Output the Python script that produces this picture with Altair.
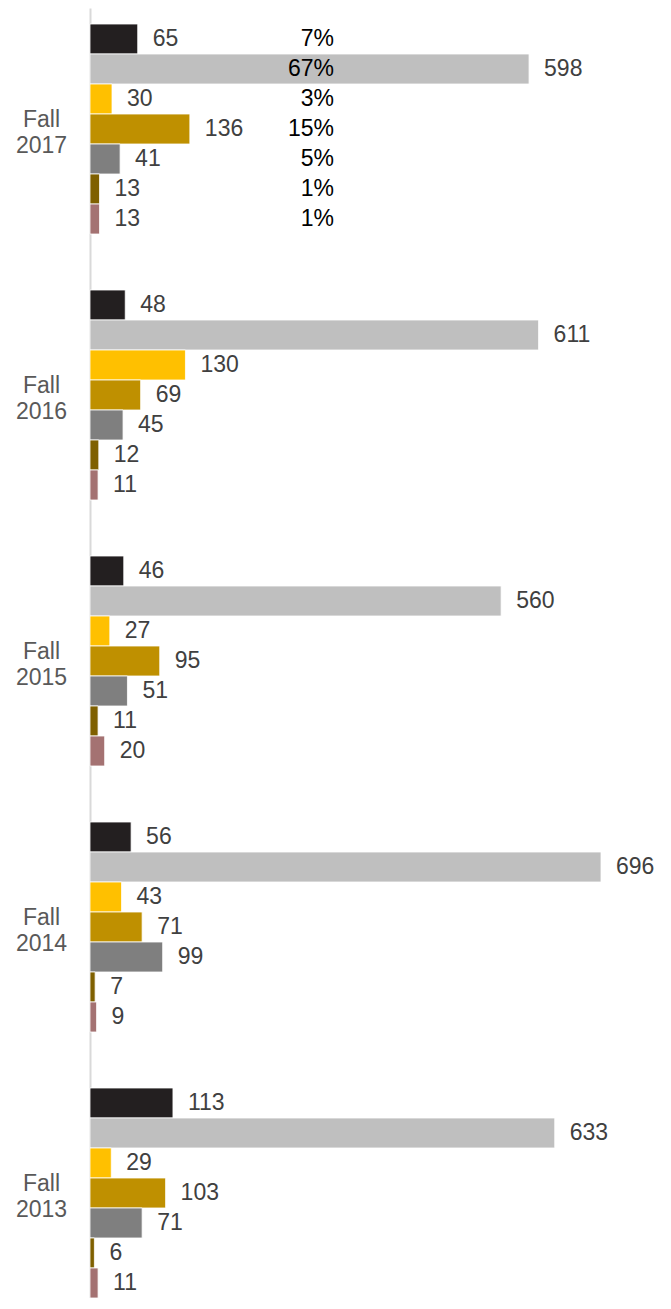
import altair as alt
import pandas as pd

groups = ["Fall 2017", "Fall 2016", "Fall 2015", "Fall 2014", "Fall 2013"]
series = ["Series 1", "Series 2", "Series 3", "Series 4", "Series 5", "Series 6", "Series 7"]
colors = ["#231F20", "#BFBFBF", "#FFC000", "#BF9000", "#7F7F7F", "#7F6000", "#A47272"]

values = {
    "Fall 2017": [65, 598, 30, 136, 41, 13, 13],
    "Fall 2016": [48, 611, 130, 69, 45, 12, 11],
    "Fall 2015": [46, 560, 27, 95, 51, 11, 20],
    "Fall 2014": [56, 696, 43, 71, 99, 7, 9],
    "Fall 2013": [113, 633, 29, 103, 71, 6, 11],
}
pct_2017 = ["7%", "67%", "3%", "15%", "5%", "1%", "1%"]

rows = []
for g in groups:
    for i, s in enumerate(series):
        rows.append({"group": g, "series": s, "value": values[g][i],
                     "pct": pct_2017[i] if g == "Fall 2017" else ""})
df = pd.DataFrame(rows)

FONT = "Liberation Sans"

y_enc = alt.Y("group:N", sort=groups,
              scale=alt.Scale(paddingInner=0.2105, paddingOuter=0.0301, align=1),
              axis=alt.Axis(title=None, ticks=False, labelAlign="center",
                            labelPadding=49, labelFontSize=23, labelFont=FONT,
                            labelColor="#595959", labelLineHeight=26,
                            labelOffset=-9,
                            labelExpr="split(datum.label, ' ')",
                            domainColor="#D9D9D9", domainWidth=2,
                            labelBaseline="middle"))
yoff_enc = alt.YOffset("series:N", sort=series,
                       scale=alt.Scale(paddingInner=0, paddingOuter=0))
x_enc = alt.X("value:Q", scale=alt.Scale(domain=[0, 696], nice=False),
              axis=None)

base = alt.Chart(df)

bars = base.mark_bar(stroke="white", strokeWidth=0.8).encode(
    y=y_enc, yOffset=yoff_enc, x=x_enc,
    color=alt.Color("series:N", sort=series,
                    scale=alt.Scale(domain=series, range=colors), legend=None),
)

labels = base.mark_text(align="left", baseline="middle", dx=15,
                        fontSize=23, font=FONT, color="#404040").encode(
    y=y_enc, yOffset=yoff_enc, x=x_enc, text="value:Q",
)

pcts = base.transform_filter("datum.pct != ''").mark_text(
    align="right", baseline="middle", fontSize=23, font=FONT, color="#000000"
).encode(
    y=y_enc, yOffset=yoff_enc, x=alt.value(244), text="pct:N",
)

chart = alt.layer(bars, labels, pcts).properties(
    width=511, height=1290,
    autosize=alt.AutoSizeParams(type="none"),
    padding={"left": 82, "top": 0, "right": 62, "bottom": 0},
).configure_view(stroke=None).configure_axis(grid=False)

chart.save("out.html", embed_options={"renderer": "svg", "actions": False})
